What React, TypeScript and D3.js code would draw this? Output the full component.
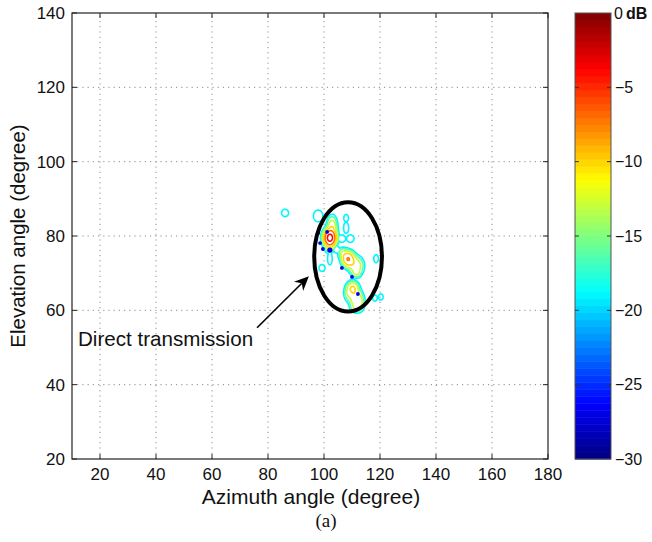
import React, { useMemo } from "react";
import * as d3 from "d3";

// ---- axes / ticks ----
const AZ_DOMAIN: [number, number] = [10, 180];
const EL_DOMAIN: [number, number] = [20, 140];
const AZ_TICKS = [20, 40, 60, 80, 100, 120, 140, 160, 180];
const EL_TICKS = [20, 40, 60, 80, 100, 120, 140];
const DB_DOMAIN: [number, number] = [-30, 0];
const DB_TICKS = [0, -5, -10, -15, -20, -25, -30];
const CONTOUR_LEVELS = [-19, -16, -13, -10, -7, -4];

// ---- read-off sources: [azimuth, elevation, peak dB, spread az, spread el] ----
const MAIN_PEAK = [
  [102.1, 79.5, -3, 1.25, 1.25],
  [102.9, 82.6, -11, 1.1, 1.7],
  [101.9, 77.0, -14, 1.1, 1.1],
];
const SECOND_PEAK = [
  [108.6, 73.8, -7, 1.3, 1.2],
  [111.5, 72.0, -11, 1.6, 1.5],
  [106.6, 75.4, -14, 1.1, 1.0],
  [111.6, 70.0, -15, 1.0, 0.8],
];
const LOWER_CLUSTER = [
  [110.2, 66.0, -10, 1.3, 1.1],
  [111.0, 63.4, -11, 1.3, 1.5],
  [113.0, 62.3, -13, 1.0, 1.5],
  [111.3, 60.8, -14, 1.2, 0.9],
  [108.4, 64.4, -15, 0.9, 1.2],
];
const SMALL_RINGS = [
  [86.1, 86.2, -17.5, 1.5, 1.2],
  [97.9, 85.4, -17.5, 2.0, 1.9],
  [107.9, 84.8, -17.5, 1.0, 1.2],
  [107.9, 82.2, -17.5, 1.1, 1.8],
  [106.4, 79.3, -17.5, 1.6, 1.2],
  [109.4, 79.3, -17.5, 1.6, 1.2],
  [102.1, 73.9, -17.5, 1.0, 2.0],
  [104.6, 76.3, -17.5, 1.3, 1.1],
  [99.3, 71.4, -17.5, 1.3, 1.1],
  [118.6, 73.9, -17.5, 1.0, 1.3],
  [118.2, 63.3, -17.5, 1.0, 1.0],
  [120.3, 63.6, -17.5, 1.0, 1.0],
];
// weak (about -27 dB) isolated points: [azimuth, elevation]
const WEAK_POINTS = [
  [101.1, 81.1],
  [97.9, 80.8],
  [98.6, 78.1],
  [99.6, 76.5],
  [102.1, 76.2],
  [106.4, 71.4],
  [110.0, 69.0],
  [112.1, 64.4],
];
const WEAK_DB = -27;

// annotation (data coordinates)
const ELLIPSE = { az: 108.6, el: 74.4, raz: 12.1, rel: 14.7 };
const ARROW_FROM = [76.1, 55.3];
const ARROW_TO = [94.6, 69.2];
const ANNOTATION = "Direct transmission";

const W = 652;
const H = 542;
const M = { left: 72, right: 548, top: 13, bottom: 459 };
const CB = { x0: 575, x1: 611 };
const FONT = "'Liberation Sans', Arial, Helvetica, sans-serif";

function jet(t: number) {
  const c = (v: number) => Math.max(0, Math.min(1, v));
  const r = c(1.5 - Math.abs(4 * t - 3));
  const g = c(1.5 - Math.abs(4 * t - 2));
  const b = c(1.5 - Math.abs(4 * t - 1));
  return d3.rgb(r * 255, g * 255, b * 255).formatHex();
}

// grid
const GRID_AZ0 = 80, GRID_AZ1 = 126, GRID_EL0 = 54, GRID_EL1 = 92, STEP = 0.2;

export default function App() {
  const x = d3.scaleLinear().domain(AZ_DOMAIN).range([M.left, M.right]);
  const y = d3.scaleLinear().domain(EL_DOMAIN).range([M.bottom, M.top]);
  const cy = d3.scaleLinear().domain(DB_DOMAIN).range([M.bottom, M.top]);
  const tColor = d3.scaleLinear().domain(DB_DOMAIN).range([0, 1]);

  const contours = useMemo(() => {
    const nx = Math.round((GRID_AZ1 - GRID_AZ0) / STEP) + 1;
    const ny = Math.round((GRID_EL1 - GRID_EL0) / STEP) + 1;
    const groups: number[][][] = [MAIN_PEAK, SECOND_PEAK, LOWER_CLUSTER, ...SMALL_RINGS.map((s) => [s])];
    const vals = new Float64Array(nx * ny);
    for (let j = 0; j < ny; j++) {
      const el = GRID_EL0 + j * STEP;
      for (let i = 0; i < nx; i++) {
        const az = GRID_AZ0 + i * STEP;
        let best = -60;
        for (const g of groups) {
          let p = 1e-9;
          for (const [a, e, pk, sa, se] of g) {
            const da = (az - a) / sa, de = (el - e) / se;
            p += Math.pow(10, pk / 10) * Math.exp(-0.5 * (da * da + de * de));
          }
          const db = 10 * Math.log10(p);
          if (db > best) best = db;
        }
        vals[i + j * nx] = best;
      }
    }
    const gen = d3.contours().size([nx, ny]).thresholds(CONTOUR_LEVELS);
    const cs = gen(Array.from(vals));
    const proj = d3.geoTransform({
      point(px: number, py: number) {
        // @ts-ignore
        this.stream.point(x(GRID_AZ0 + (px - 0.5) * STEP), y(GRID_EL0 + (py - 0.5) * STEP));
      },
    });
    const path = d3.geoPath(proj);
    return cs.map((c) => ({ level: c.value, d: path(c as any) || "" }));
  }, []);

  const nBands = 64;
  const bands = d3.range(nBands).map((k) => {
    const v0 = DB_DOMAIN[0] + (k * (DB_DOMAIN[1] - DB_DOMAIN[0])) / nBands;
    const v1 = DB_DOMAIN[0] + ((k + 1) * (DB_DOMAIN[1] - DB_DOMAIN[0])) / nBands;
    return { y0: cy(v1), y1: cy(v0), color: jet((k + 0.5) / nBands) };
  });

  // arrow
  const ax0 = x(ARROW_FROM[0]), ay0 = y(ARROW_FROM[1]);
  const ax1 = x(ARROW_TO[0]), ay1 = y(ARROW_TO[1]);
  const ang = Math.atan2(ay1 - ay0, ax1 - ax0);
  const hl = 16, hw = 0.42;
  const w1 = [ax1 - hl * Math.cos(ang - hw), ay1 - hl * Math.sin(ang - hw)];
  const w2 = [ax1 - hl * Math.cos(ang + hw), ay1 - hl * Math.sin(ang + hw)];
  const notch = [ax1 - 10 * Math.cos(ang), ay1 - 10 * Math.sin(ang)];
  const headPath = `M${ax1},${ay1}L${w1[0]},${w1[1]}L${notch[0]},${notch[1]}L${w2[0]},${w2[1]}Z`;

  const tickLen = 5;

  return (
    <svg
      width={W}
      height={H}
      style={{ position: "absolute", left: 0, top: 0, background: "#fff" }}
      fontFamily={FONT}
    >
      <rect x={0} y={0} width={W} height={H} fill="#fff" />
      {/* grid */}
      <g stroke="#8c8c8c" strokeWidth={1} strokeDasharray="1.2,4">
        {AZ_TICKS.filter((t) => t < AZ_DOMAIN[1]).map((t) => (
          <line key={"gx" + t} x1={x(t)} x2={x(t)} y1={M.bottom} y2={M.top} />
        ))}
        {EL_TICKS.filter((t) => t > EL_DOMAIN[0] && t < EL_DOMAIN[1]).map((t) => (
          <line key={"gy" + t} x1={M.left} x2={M.right} y1={y(t)} y2={y(t)} />
        ))}
      </g>
      {/* contours */}
      <g fill="none" strokeWidth={1.6} strokeLinejoin="round">
        {contours.map((c) => (
          <path key={c.level} d={c.d} stroke={jet(tColor(c.level))} />
        ))}
      </g>
      {WEAK_POINTS.map(([a, e], i) => (
        <circle key={"w" + i} cx={x(a)} cy={y(e)} r={i === 4 ? 2.6 : 1.9} fill={jet(tColor(WEAK_DB))} />
      ))}
      {/* annotation ellipse */}
      <ellipse
        cx={x(ELLIPSE.az)}
        cy={y(ELLIPSE.el)}
        rx={x(ELLIPSE.az + ELLIPSE.raz) - x(ELLIPSE.az)}
        ry={y(ELLIPSE.el) - y(ELLIPSE.el + ELLIPSE.rel)}
        fill="none"
        stroke="#000"
        strokeWidth={4}
      />
      <line x1={ax0} y1={ay0} x2={notch[0]} y2={notch[1]} stroke="#000" strokeWidth={1.6} />
      <path d={headPath} fill="#000" />
      <text x={78} y={346} fontSize={20.6} fill="#111">{ANNOTATION}</text>

      {/* axes box + ticks */}
      <rect x={M.left} y={M.top} width={M.right - M.left} height={M.bottom - M.top} fill="none" stroke="#222" strokeWidth={1.2} />
      <g stroke="#222" strokeWidth={1}>
        {AZ_TICKS.map((t) => (
          <g key={"tx" + t}>
            <line x1={x(t)} x2={x(t)} y1={M.bottom} y2={M.bottom - tickLen} />
            <line x1={x(t)} x2={x(t)} y1={M.top} y2={M.top + tickLen} />
          </g>
        ))}
        {EL_TICKS.map((t) => (
          <g key={"ty" + t}>
            <line x1={M.left} x2={M.left + tickLen} y1={y(t)} y2={y(t)} />
            <line x1={M.right} x2={M.right - tickLen} y1={y(t)} y2={y(t)} />
          </g>
        ))}
      </g>
      <g fontSize={17} fill="#111">
        {AZ_TICKS.map((t) => (
          <text key={"lx" + t} x={x(t)} y={480} textAnchor="middle">{t}</text>
        ))}
        {EL_TICKS.map((t) => (
          <text key={"ly" + t} x={65} y={y(t)} dy="0.35em" textAnchor="end">{t}</text>
        ))}
      </g>
      <text x={311} y={504} fontSize={21} textAnchor="middle" fill="#111">
        Azimuth angle (degree)
      </text>
      <text
        transform={`translate(25,${(M.top + M.bottom) / 2}) rotate(-90)`}
        fontSize={20.5}
        textAnchor="middle"
        fill="#111"
      >
        Elevation angle (degree)
      </text>
      <text x={326} y={527} fontSize={19} textAnchor="middle" fontFamily="'Liberation Serif', 'Times New Roman', serif" fill="#111">
        (a)
      </text>

      {/* colorbar */}
      {bands.map((b, i) => (
        <rect key={"cb" + i} x={CB.x0} y={b.y0} width={CB.x1 - CB.x0} height={b.y1 - b.y0 + 0.5} fill={b.color} />
      ))}
      <rect x={CB.x0} y={M.top} width={CB.x1 - CB.x0} height={M.bottom - M.top} fill="none" stroke="#555" strokeWidth={1} />
      <g stroke="#333" strokeWidth={1}>
        {DB_TICKS.filter((t) => t !== 0 && t !== -30).map((t) => (
          <g key={"ct" + t}>
            <line x1={CB.x0} x2={CB.x0 + 4} y1={cy(t)} y2={cy(t)} />
            <line x1={CB.x1} x2={CB.x1 - 4} y1={cy(t)} y2={cy(t)} />
          </g>
        ))}
      </g>
      <g fontSize={16} fill="#111">
        {DB_TICKS.map((t) =>
          t === 0 ? (
            <text key={"cl" + t} x={614} y={cy(t)} dy="0.35em">
              0<tspan dx={3} fontWeight="bold">dB</tspan>
            </text>
          ) : (
            <text key={"cl" + t} x={615} y={cy(t)} dy="0.35em">{"\u2212" + Math.abs(t)}</text>
          )
        )}
      </g>
    </svg>
  );
}
